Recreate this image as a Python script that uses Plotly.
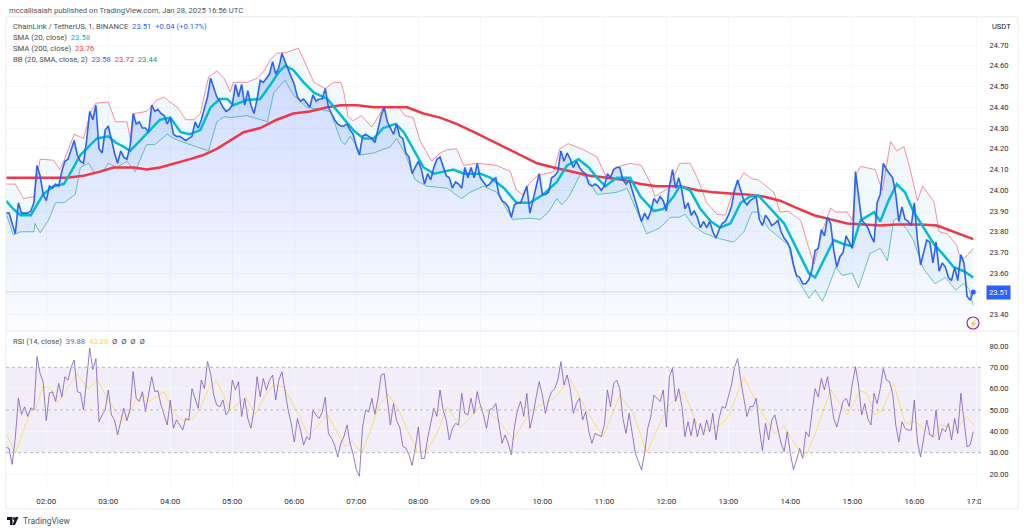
import plotly.graph_objects as go

# close, sampled every 3 minutes, one list per hour (01:21 to 16:57)
close_01 = [23.89,23.89,23.84,23.79,23.94,23.89,23.89,23.89,23.90,23.94,24.12,24.07,23.98]
close_02 = [23.95,24.02,24.01,24.03,24.02,24.09,24.14,24.15,24.19,24.24,24.17,24.14,24.13,24.24,24.38,24.34,24.41,24.20,24.18,24.29]
close_03 = [24.31,24.24,24.18,24.13,24.19,24.16,24.15,24.21,24.37,24.32,24.33,24.30,24.30,24.28,24.41,24.38,24.39,24.37,24.36,24.32]
close_04 = [24.35,24.27,24.26,24.26,24.25,24.24,24.25,24.26,24.33,24.30,24.34,24.39,24.45,24.54,24.50,24.45,24.43,24.40,24.38,24.39]
close_05 = [24.41,24.51,24.45,24.51,24.41,24.48,24.41,24.37,24.44,24.53,24.52,24.54,24.56,24.62,24.56,24.59,24.66,24.62,24.58,24.55]
close_06 = [24.51,24.45,24.43,24.44,24.42,24.40,24.46,24.43,24.44,24.44,24.49,24.40,24.37,24.34,24.32,24.31,24.31,24.32,24.29,24.27]
close_07 = [24.21,24.17,24.26,24.27,24.26,24.25,24.23,24.30,24.36,24.40,24.33,24.30,24.27,24.32,24.26,24.25,24.18,24.16,24.08,24.11]
close_08 = [24.14,24.10,24.03,24.08,24.05,24.11,24.15,24.16,24.12,24.07,24.06,24.01,24.04,24.03,24.01,24.11,24.06,24.11,24.06,24.13]
close_09 = [24.06,24.04,24.02,24.03,24.05,24.06,23.98,23.95,23.94,23.92,23.87,23.93,23.94,23.94,23.98,24.02,23.89,23.95,24.02,24.08]
close_10 = [23.98,23.98,23.99,24.06,24.07,24.09,24.19,24.14,24.18,24.15,24.11,24.14,24.11,24.09,24.08,24.03,24.02,24.03,24.02,24.00]
close_11 = [24.02,24.08,24.06,24.10,24.11,24.11,24.05,24.03,24.05,24.00,23.95,23.89,23.85,23.89,23.86,23.90,23.96,23.94,23.97,23.95]
close_12 = [23.90,24.02,24.10,24.01,24.06,24.00,23.91,23.94,23.88,23.90,23.87,23.82,23.85,23.82,23.85,23.80,23.77,23.81,23.84,23.85]
close_13 = [23.88,23.92,24.00,24.05,24.00,23.95,23.93,23.95,23.96,23.97,23.86,23.83,23.88,23.86,23.83,23.84,23.855,23.80,23.77,23.75]
close_14 = [23.72,23.64,23.59,23.58,23.55,23.55,23.57,23.62,23.71,23.72,23.81,23.78,23.87,23.84,23.71,23.63,23.68,23.70,23.78,23.75]
close_15 = [23.72,24.09,23.98,23.855,23.84,23.82,23.78,23.75,23.94,23.98,24.13,24.10,24.08,24.06,23.98,23.85,23.92,23.86,23.85,23.83]
close_16 = [23.94,23.76,23.64,23.70,23.76,23.75,23.65,23.75,23.61,23.65,23.63,23.58,23.565,23.63,23.565,23.69,23.65,23.49,23.47,23.51]

# RSI, same 3 minute samples
rsi_01 = [32.5,32,24.5,37,55.5,48,51.5,47,51,50,75,67,63]
rsi_02 = [45,58,58.5,54,62.5,56,65.6,64,70,73.4,58.6,58,50,64,79,69,74,44.5,47.7,50]
rsi_03 = [59.4,47.7,45.3,38.3,45,50.8,45,50,68,55.5,54,58.6,49.2,57,65.6,58.6,59,52.3,47,43]
rsi_04 = [54.7,41.4,45.4,43,40.6,46,45.3,60,55.5,50.8,64,60,72.7,67,57,52.3,51.5,54.7,47.7,50]
rsi_05 = [64,59.4,63.3,47,55.5,46,41.4,50,65.6,56.2,64.8,59.4,64,66.4,54.7,64,68,59,50,43.7]
rsi_06 = [35,46,40.6,33.6,37.5,36,50,47.7,46,49,56,39,36.7,33.6,28,34.4,37.5,43,34.4,29]
rsi_07 = [22,19,42,50,49,55.5,48,55.5,66.4,67,54,43,53,45,42,33,32,29,24,32]
rsi_08 = [42,27.3,27.3,36.7,43.7,50.8,47,59.4,50,45.3,36,41.4,43.7,43,57.8,48.4,47.7,55.5,48.4,58.6]
rsi_09 = [52.3,47.7,41.4,50,50.8,53,43.7,34.4,38.3,34.4,29,42,50,54,47,57.8,41.4,47.7,56,63.3]
rsi_10 = [57,48.4,54.7,58.6,60,64,72.7,61.7,66.4,60,48.4,53,55.5,45.3,49.2,39.8,34.4,39,38.3,37.5]
rsi_11 = [43,59.4,51.5,62.5,64,60,46,39,48.4,38.3,29.7,25.8,21.9,29.7,41.4,47,57,55.5,54,59.4]
rsi_12 = [42,65.6,69.5,54,60,52,37.5,44.5,38,46,37.5,43.7,38.3,45.3,39.8,48.4,36,46,51.6,50.8]
rsi_13 = [56,61.7,70,74,64,54.7,47,51.6,51.6,55.5,41.4,31,43.7,36,45.3,47.7,40.6,34.4,30.5,39.8]
rsi_14 = [29.7,22,26.6,32,27.3,39.8,37.5,47.7,60,56,64.8,59.4,65.6,56,46,42,48.4,54,55.5,51.6]
rsi_15 = [62.5,70.3,61.7,47.7,53,46,43,57.8,53,60,69.5,64,63.3,57.8,43,35,44.5,41.4,40.6,40.6]
rsi_16 = [54.7,35,28,36,45.3,38.3,37.5,50,36,41.4,39.8,43.7,36,46,39,57.8,45,32.8,33.6,39.9]

close_price = (close_01 + close_02 + close_03 + close_04 + close_05 + close_06 + close_07 + close_08
               + close_09 + close_10 + close_11 + close_12 + close_13 + close_14 + close_15 + close_16)
rsi_values = (rsi_01 + rsi_02 + rsi_03 + rsi_04 + rsi_05 + rsi_06 + rsi_07 + rsi_08
              + rsi_09 + rsi_10 + rsi_11 + rsi_12 + rsi_13 + rsi_14 + rsi_15 + rsi_16)
sample_minutes = [21 + 3 * i for i in range(len(close_price))]

# the smooth lines are read at their turning points, minutes since 01:00
sma20_minutes = [21,28,35,45,51,57,67,77,83,93,101,109,120,127,135,141,151,161,170,180,190,199,209,219,228,235,241,254,267,277,285,291,299,309,319,332,344,357,367,377,386,398,406,415,425,435,445,454,464,480,490,503,515,528,541,554,564,575,585,593,601,612,625,635,648,657,667,673,683,693,703,712,722,732,741,749,761,774,786,798,804,812,822,832,840,848,861,867,875,883,891,899,909,919,928,938,948,957]
sma20_values = [23.95,23.91,23.88,23.88,23.93,23.98,24.02,24.03,24.08,24.17,24.21,24.25,24.26,24.23,24.21,24.19,24.24,24.29,24.34,24.35,24.28,24.27,24.29,24.40,24.44,24.44,24.41,24.435,24.44,24.51,24.57,24.60,24.58,24.52,24.47,24.44,24.37,24.29,24.25,24.25,24.30,24.32,24.28,24.20,24.11,24.08,24.09,24.10,24.08,24.08,24.06,24.01,23.94,23.94,23.98,24.04,24.12,24.15,24.11,24.06,24.02,24.06,24.06,23.97,23.90,23.91,23.97,24.02,24.00,23.91,23.85,23.82,23.84,23.94,23.97,23.975,23.91,23.84,23.72,23.60,23.58,23.66,23.76,23.74,23.73,23.855,23.895,23.85,23.95,24.03,23.99,23.90,23.82,23.74,23.69,23.63,23.61,23.58]

sma200_minutes = [21,80,96,112,125,145,157,170,199,212,225,238,251,267,283,299,315,332,345,361,377,409,425,441,457,474,490,506,522,535,551,570,586,603,619,635,651,667,673,690,706,722,738,754,770,786,803,819,835,851,867,883,906,922,938,957]
sma200_values = [24.06,24.06,24.07,24.09,24.11,24.11,24.10,24.11,24.15,24.17,24.20,24.24,24.28,24.30,24.34,24.37,24.38,24.40,24.41,24.41,24.40,24.40,24.37,24.35,24.32,24.28,24.24,24.20,24.16,24.13,24.11,24.09,24.07,24.06,24.05,24.03,24.02,24.02,24.02,24.00,23.99,23.985,23.98,23.97,23.95,23.915,23.88,23.86,23.84,23.835,23.83,23.835,23.835,23.83,23.80,23.765]

bb_upper_minutes = [21,30,38,48,54,67,73,78,87,96,103,108,120,127,138,142,145,157,167,174,177,187,195,203,209,217,225,232,238,241,254,264,270,277,283,293,304,311,319,330,338,345,348,352,357,365,375,382,386,401,407,415,422,433,441,448,457,464,477,496,509,515,521,527,535,551,557,565,580,593,603,611,625,636,645,649,662,673,683,690,699,709,717,725,735,743,749,764,770,778,790,798,803,811,819,824,835,840,844,848,862,869,877,883,890,896,903,908,919,924,932,941,945,951,957]
bb_upper_values = [24.03,24.03,23.96,23.97,24.15,24.145,24.10,24.155,24.27,24.25,24.38,24.42,24.425,24.33,24.33,24.23,24.37,24.38,24.435,24.45,24.435,24.40,24.34,24.34,24.37,24.545,24.575,24.54,24.475,24.52,24.52,24.54,24.57,24.63,24.66,24.665,24.685,24.61,24.52,24.49,24.52,24.52,24.47,24.355,24.335,24.36,24.305,24.36,24.40,24.40,24.36,24.35,24.235,24.14,24.18,24.195,24.20,24.12,24.13,24.12,24.09,24.00,23.98,24.03,24.07,24.09,24.20,24.225,24.195,24.16,24.05,24.11,24.13,24.12,24.03,23.97,24.01,24.13,24.13,24.06,23.94,23.885,23.88,24.00,24.085,24.055,24.05,23.99,23.895,23.90,23.855,23.72,23.645,23.805,23.915,23.895,23.895,23.855,24.08,24.115,24.10,24.00,24.235,24.19,24.21,24.10,23.95,24.02,23.945,23.80,23.79,23.735,23.66,23.685,23.72]

bb_lower_minutes = [21,28,35,48,49,54,62,69,77,88,93,101,107,116,120,128,138,146,157,165,177,183,199,217,225,232,238,254,274,280,291,299,312,325,335,345,349,354,361,364,377,393,399,407,417,428,448,456,462,470,483,496,504,511,528,538,546,554,559,566,577,585,593,612,622,630,641,654,664,673,678,686,696,709,725,735,743,749,759,769,778,786,798,804,811,817,824,830,840,846,857,867,874,880,883,893,899,909,920,930,940,948,953,957]
bb_lower_values = [23.89,23.785,23.80,23.80,23.84,23.795,23.855,23.94,23.94,23.98,24.11,24.13,24.08,24.10,24.13,24.11,24.14,24.09,24.22,24.22,24.27,24.25,24.22,24.19,24.33,24.355,24.35,24.36,24.33,24.47,24.53,24.46,24.40,24.39,24.38,24.24,24.22,24.26,24.21,24.17,24.18,24.21,24.25,24.18,24.05,24.02,24.01,23.98,23.96,23.99,24.02,23.99,23.92,23.86,23.865,23.86,23.895,23.96,23.93,23.97,24.08,24.05,23.98,23.99,24.01,23.92,23.79,23.82,23.87,23.87,23.885,23.83,23.795,23.77,23.75,23.80,23.895,23.895,23.815,23.775,23.735,23.58,23.48,23.52,23.465,23.535,23.63,23.59,23.60,23.53,23.695,23.72,23.66,23.855,23.865,23.81,23.76,23.62,23.55,23.58,23.52,23.55,23.525,23.445]

rsi_ma_minutes = [22,30,38,45,49,57,64,71,78,90,101,109,119,125,136,146,154,159,174,182,190,201,209,217,225,238,253,262,272,280,290,301,314,332,345,349,356,365,374,382,391,401,411,420,428,438,448,461,480,496,512,528,551,567,585,599,615,628,641,662,674,677,690,698,711,720,735,751,765,774,785,795,806,819,835,848,854,862,869,880,891,901,919,925,933,938,951,957]
rsi_ma_values = [38.3,29.7,40.6,50,50,61,60,53.4,58.6,66.9,59.7,64.4,55.5,50.8,45,54,57,54,58.6,50,45.3,45.3,50.8,60,63.8,50,56,48,57,61.7,60.6,50.8,37.8,48,36,32.8,35.5,29.7,40.6,52.3,57.3,50,39,30,31,39,51.3,42,51.6,46,36,49.5,55.5,64.4,47.7,37.5,57,48.4,30,52.3,57,58.6,43,40.3,42.5,46.9,65.3,50,39,42.5,33.6,28,41.4,59.7,47.7,59,57.8,47.7,50,62.5,43.7,44.5,36.7,43,42,39.4,46.9,43]

hour_ticks = [60,120,180,240,300,360,420,480,540,600,660,720,780,840,900,960]
hour_labels = ["02:00","03:00","04:00","05:00","06:00","07:00","08:00","09:00","10:00","11:00","12:00","13:00","14:00","15:00","16:00","17:00"]
price_ticks = [23.4,23.5,23.6,23.7,23.8,23.9,24.0,24.1,24.2,24.3,24.4,24.5,24.6,24.7]
rsi_ticks = [20,30,40,50,60,70,80]
last_price = 23.51

BLUE = "#2962ff"
TEAL = "#00bcd4"
RED = "#f23645"
GREEN = "#089981"
PURPLE = "#7e57c2"
YELLOW = "#fdd835"
GRID = "#f6f7fa"
BORDER = "#e9ebf0"
W, H = 1024, 532


def px(v):
    return v / W


def py(v):
    return 1 - v / H


fig = go.Figure()

# blue area under the close
fig.add_trace(go.Scatter(x=sample_minutes, y=close_price, mode="none", fill="tozeroy",
                         fillgradient=dict(type="vertical", start=23.36, stop=24.66,
                                           colorscale=[[0, "rgba(41,98,255,0.02)"], [1, "rgba(41,98,255,0.24)"]]),
                         hoverinfo="skip"))
fig.add_trace(go.Scatter(x=bb_upper_minutes, y=bb_upper_values, mode="lines",
                         line=dict(color="rgba(242,54,69,0.55)", width=1)))
fig.add_trace(go.Scatter(x=bb_lower_minutes, y=bb_lower_values, mode="lines",
                         line=dict(color="rgba(8,153,129,0.55)", width=1),
                         fill="tonexty", fillcolor="rgba(33,150,243,0.06)"))
fig.add_trace(go.Scatter(x=sma200_minutes, y=sma200_values, mode="lines", line=dict(color=RED, width=2.5)))
fig.add_trace(go.Scatter(x=sma20_minutes, y=sma20_values, mode="lines", line=dict(color=TEAL, width=2.5)))
fig.add_trace(go.Scatter(x=sample_minutes, y=close_price, mode="lines", line=dict(color=BLUE, width=1.6)))
fig.add_trace(go.Scatter(x=sample_minutes[-1:], y=close_price[-1:], mode="markers",
                         marker=dict(color=BLUE, size=5)))

fig.add_trace(go.Scatter(x=rsi_ma_minutes, y=rsi_ma_values, mode="lines", yaxis="y2",
                         line=dict(color="rgba(253,216,53,0.7)", width=1)))
fig.add_trace(go.Scatter(x=sample_minutes, y=rsi_values, mode="lines", yaxis="y2",
                         line=dict(color="rgba(126,87,194,0.8)", width=1)))

shapes = [
    # rsi band
    dict(type="rect", xref="x domain", yref="y2", x0=0, x1=1, y0=30, y1=70,
         fillcolor="rgba(126,87,194,0.1)", line_width=0, layer="below"),
    dict(type="line", xref="x domain", yref="y", x0=0, x1=1, y0=last_price, y1=last_price,
         line=dict(color="rgba(41,98,255,0.2)", width=1)),
    # hides the end of the last time label, the pane cuts it off
    dict(type="rect", xref="paper", yref="paper", x0=px(981), x1=px(1017), y0=py(508), y1=py(491),
         fillcolor="white", line_width=0, layer="above"),
    # frame
    dict(type="line", xref="paper", yref="paper", x0=px(6), x1=px(1018), y0=py(17), y1=py(17), line=dict(color=BORDER, width=1)),
    dict(type="line", xref="paper", yref="paper", x0=px(6), x1=px(1018), y0=py(331), y1=py(331), line=dict(color=BORDER, width=1)),
    dict(type="line", xref="paper", yref="paper", x0=px(6), x1=px(1018), y0=py(509), y1=py(509), line=dict(color=BORDER, width=1)),
    dict(type="line", xref="paper", yref="paper", x0=px(6), x1=px(6), y0=py(17), y1=py(509), line=dict(color=BORDER, width=1)),
    dict(type="line", xref="paper", yref="paper", x0=px(1018), x1=px(1018), y0=py(17), y1=py(509), line=dict(color=BORDER, width=1)),
    # replay icon
    dict(type="circle", xref="paper", yref="paper", x0=px(967), x1=px(979), y0=py(329), y1=py(317),
         line=dict(color="#9c27b0", width=1.2), fillcolor="white"),
    # logo
    dict(type="path", xref="paper", yref="paper", fillcolor="#131722", line_width=0,
         path=f"M {px(7)} {py(517)} L {px(12.5)} {py(517)} L {px(12.5)} {py(525)} L {px(10)} {py(525)} L {px(10)} {py(520)} L {px(7)} {py(520)} Z"),
    dict(type="circle", xref="paper", yref="paper", x0=px(13), x1=px(15), y0=py(520), y1=py(517),
         fillcolor="#131722", line_width=0),
    dict(type="path", xref="paper", yref="paper", fillcolor="#131722", line_width=0,
         path=f"M {px(15.5)} {py(517)} L {px(18.5)} {py(517)} L {px(15)} {py(525)} L {px(12.5)} {py(525)} Z"),
]
for level in [30, 50, 70]:
    shapes.append(dict(type="line", xref="x domain", yref="y2", x0=0, x1=1, y0=level, y1=level,
                       line=dict(color="#b8b6c4", width=1, dash="dot")))


def label(text, x, y, size=7.7, color="#4a4e59", xanchor="left", **kw):
    return dict(text=text, x=px(x), y=py(y), xref="paper", yref="paper", xanchor=xanchor, yanchor="middle",
                showarrow=False, font=dict(family="Roboto", size=size, color=color), **kw)


def span(text, color):
    return f'<span style="color:{color}">{text}</span>'


annotations = [
    label("mccallisaiah published on TradingView.com, Jan 28, 2025 16:56 UTC", 7, 10, color="#50535e"),
    label("ChainLink / TetherUS, 1, BINANCE  " + span("23.51", BLUE) + "  " + span("+0.04 (+0.17%)", BLUE), 11, 27),
    label("SMA (20, close)  " + span("23.58", TEAL), 11, 38),
    label("SMA (200, close)  " + span("23.76", RED), 11, 49),
    label("BB (20, SMA, close, 2)  " + span("23.58", BLUE) + "  " + span("23.72", RED) + "  " + span("23.44", GREEN), 11, 60),
    label("RSI (14, close)  " + span("39.88", PURPLE) + "  " + span("43.26", YELLOW) + "  Ø  Ø  Ø  Ø", 11, 341),
    label("USDT", 990, 27, size=7.5, color="#131722"),
    label("23.51", 998, 292, size=7.6, color="white", xanchor="center", bgcolor=BLUE, borderpad=2),
    label("⚡", 973, 323, size=7, color="#9c27b0", xanchor="center"),
    label("TradingView", 21, 521, size=8.5, color="#50535e"),
]

fig.update_layout(
    width=W, height=H, margin=dict(l=0, r=0, t=0, b=0, autoexpand=False),
    autosize=False,
    paper_bgcolor="white", plot_bgcolor="white", showlegend=False,
    shapes=shapes, annotations=annotations,
    xaxis=dict(domain=[px(6), px(981)], range=[21, 964.5], anchor="y2", tickmode="array",
               tickvals=hour_ticks, ticktext=hour_labels, gridcolor=GRID, zeroline=False,
               ticks="outside", ticklen=3, tickcolor="rgba(0,0,0,0)",
               tickfont=dict(family="Roboto", size=8, color="#2a2e39"), showline=False),
    yaxis=dict(domain=[py(331), py(17)], range=[23.322, 24.835], side="right", anchor="x", tickmode="array",
               tickvals=price_ticks, ticktext=[f"{v:.2f}" for v in price_ticks], gridcolor=GRID, zeroline=False,
               ticks="outside", ticklen=6, tickcolor="rgba(0,0,0,0)",
               tickfont=dict(family="Roboto", size=7.6, color="#2a2e39"), showline=False),
    yaxis2=dict(domain=[py(490), py(332)], range=[12.5, 86.56], side="right", anchor="x", tickmode="array",
                tickvals=rsi_ticks, ticktext=[f"{v:.2f}" for v in rsi_ticks], gridcolor=GRID, zeroline=False,
                ticks="outside", ticklen=6, tickcolor="rgba(0,0,0,0)",
                tickfont=dict(family="Roboto", size=7.6, color="#2a2e39"), showline=False),
)

assert len(sma20_minutes) == len(sma20_values), (len(sma20_minutes), len(sma20_values))
assert len(sma200_minutes) == len(sma200_values), (len(sma200_minutes), len(sma200_values))
assert len(bb_upper_minutes) == len(bb_upper_values), (len(bb_upper_minutes), len(bb_upper_values))
assert len(bb_lower_minutes) == len(bb_lower_values), (len(bb_lower_minutes), len(bb_lower_values))
assert len(rsi_ma_minutes) == len(rsi_ma_values), (len(rsi_ma_minutes), len(rsi_ma_values))
assert len(rsi_values) == len(close_price), (len(rsi_values), len(close_price))

# the default page margin would push the whole figure 8px down and right
fig.write_html("out.html", post_script="document.body.style.margin='0';", config=dict(displayModeBar=False))
